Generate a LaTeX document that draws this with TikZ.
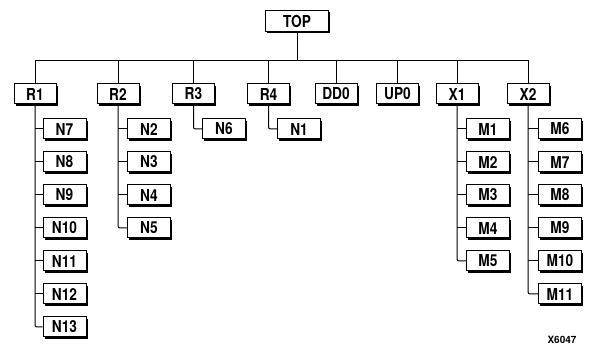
\documentclass[tikz,border=0pt]{standalone}
\usepackage{fontspec}
\setmainfont{TeX Gyre Heros}
\newfontfamily\boxfont{TeX Gyre Heros}[FakeStretch=0.83]
\usetikzlibrary{shadows}
\begin{document}
\begin{tikzpicture}[x=1pt,y=-1pt,
  box/.style={draw,line width=1pt,fill=white,inner sep=0pt,minimum height=20pt,
    font=\boxfont\fontsize{16.5}{16.5}\selectfont\bfseries,
    drop shadow={shadow xshift=1.8pt,shadow yshift=-1.8pt,opacity=1,fill=black}},
  pbox/.style={box,minimum width=42pt},
  cbox/.style={box,minimum width=43pt},
  wire/.style={line width=1pt}]
\useasboundingbox (0,0) rectangle (590,350);
\node[box,minimum width=63pt,minimum height=21pt] (TOP) at (297,21) {TOP};
\coordinate (bus) at (297,61);
\node[pbox] (R1) at (35,94) {R1};
\node[pbox] (R2) at (118,94) {R2};
\node[pbox] (R3) at (193.5,94) {R3};
\node[pbox] (R4) at (268.5,94) {R4};
\node[pbox] (DD0) at (336,94) {DD0};
\node[pbox] (UP0) at (397.5,94) {UP0};
\node[pbox] (X1) at (457,94) {X1};
\node[pbox] (X2) at (528,94) {X2};
\draw[wire] (TOP.south) -- (TOP.south |- bus);
\draw[wire] (R1.north) -- (R1.north |- bus) -- (X2.north |- bus) -- (X2.north);
\foreach \p in {R2,R3,R4,DD0,UP0,X1}
  \draw[wire] (\p.north) -- (\p.north |- bus);
% R1 children
\foreach \n/\y in {N7/129,N8/162,N9/195,N10/228,N11/261,N12/294,N13/327}
  \node[cbox] (\n) at (64.5,\y) {\n};
\draw[wire,rounded corners=2pt] (R1.south) |- (N13.west);
\foreach \n in {N7,N8,N9,N10,N11,N12}
  \draw[wire] (R1.south |- \n.west) -- (\n.west);
% R2 children
\foreach \n/\y in {N2/129,N3/162,N4/195,N5/228}
  \node[cbox] (\n) at (149,\y) {\n};
\draw[wire,rounded corners=2pt] (R2.south) |- (N5.west);
\foreach \n in {N2,N3,N4}
  \draw[wire] (R2.south |- \n.west) -- (\n.west);
% R3
\node[cbox] (N6) at (224,129) {N6};
\draw[wire,rounded corners=2pt] (R3.south) |- (N6.west);
% R4
\node[cbox] (N1) at (299,129) {N1};
\draw[wire,rounded corners=2pt] (R4.south) |- (N1.west);
% X1 children
\foreach \n/\y in {M1/129,M2/162,M3/195,M4/228,M5/261}
  \node[cbox] (\n) at (488,\y) {\n};
\draw[wire,rounded corners=2pt] (X1.south) |- (M5.west);
\foreach \n in {M1,M2,M3,M4}
  \draw[wire] (X1.south |- \n.west) -- (\n.west);
% X2 children
\foreach \n/\y in {M6/129,M7/162,M8/195,M9/228,M10/261,M11/294}
  \node[cbox] (\n) at (560,\y) {\n};
\draw[wire,rounded corners=2pt] (X2.south) |- (M11.west);
\foreach \n in {M6,M7,M8,M9,M10}
  \draw[wire] (X2.south |- \n.west) -- (\n.west);
\node[font=\fontsize{10}{10}\selectfont\bfseries,inner sep=0pt] (lab) at (562,340) {X6047};
\end{tikzpicture}
\end{document}
